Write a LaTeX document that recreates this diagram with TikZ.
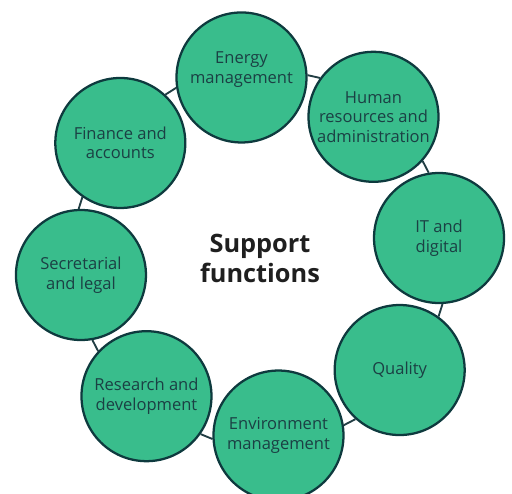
\documentclass[tikz,border=0pt]{standalone}
\usepackage{fontspec}
\setmainfont{Open Sans}
\usetikzlibrary{backgrounds}
\definecolor{funcgreen}{RGB}{57,189,140}
\definecolor{funcedge}{RGB}{14,58,62}
\definecolor{functext}{RGB}{27,64,68}
\definecolor{ringline}{RGB}{34,62,68}
\begin{document}
\begin{tikzpicture}[x=0.75pt, y=0.75pt,
        func/.style={circle, draw=funcedge, line width=1.7pt, fill=funcgreen, minimum size=97.5pt, inner sep=0pt, align=center, text=functext, font=\fontsize{12.4}{14.6}\selectfont},
        ring/.style={draw=ringline, line width=1.4pt}]
    \useasboundingbox (-260,-237.5) rectangle (252,256.5);
    \node[align=center, text=black!88, font=\bfseries\fontsize{19}{22.5}\selectfont] (hub) at (0,-1.5) {Support\\functions};
    \node[func] (energy) at (95.9:180) {Energy\\management\\~};
    \node[func] (hr) at (50.9:180) {Human\\resources and\\administration};
    \node[func] (it) at (5.9:180) {IT and\\digital};
    \node[func] (quality) at (-39.1:180) {Quality};
    \node[func] (environment) at (-84.1:180) {Environment\\management};
    \node[func] (research) at (-129.1:180) {Research and\\development};
    \node[func] (secretarial) at (-174.1:180) {Secretarial\\and legal};
    \node[func] (finance) at (140.9:180) {Finance and\\accounts};
    % ring pieces between neighbours
    \begin{scope}[on background layer]
        \draw[ring] (energy.2.5) -- (hr.144.3);
        \draw[ring] (hr.-42.5) -- (it.99.3);
        \draw[ring] (it.-87.5) -- (quality.54.3);
        \draw[ring] (quality.-132.5) -- (environment.9.3);
        \draw[ring] (environment.-177.5) -- (research.-35.7);
        \draw[ring] (research.137.5) -- (secretarial.-80.7);
        \draw[ring] (secretarial.92.5) -- (finance.-125.7);
        \draw[ring] (finance.47.5) -- (energy.189.3);
    \end{scope}
\end{tikzpicture}
\end{document}
